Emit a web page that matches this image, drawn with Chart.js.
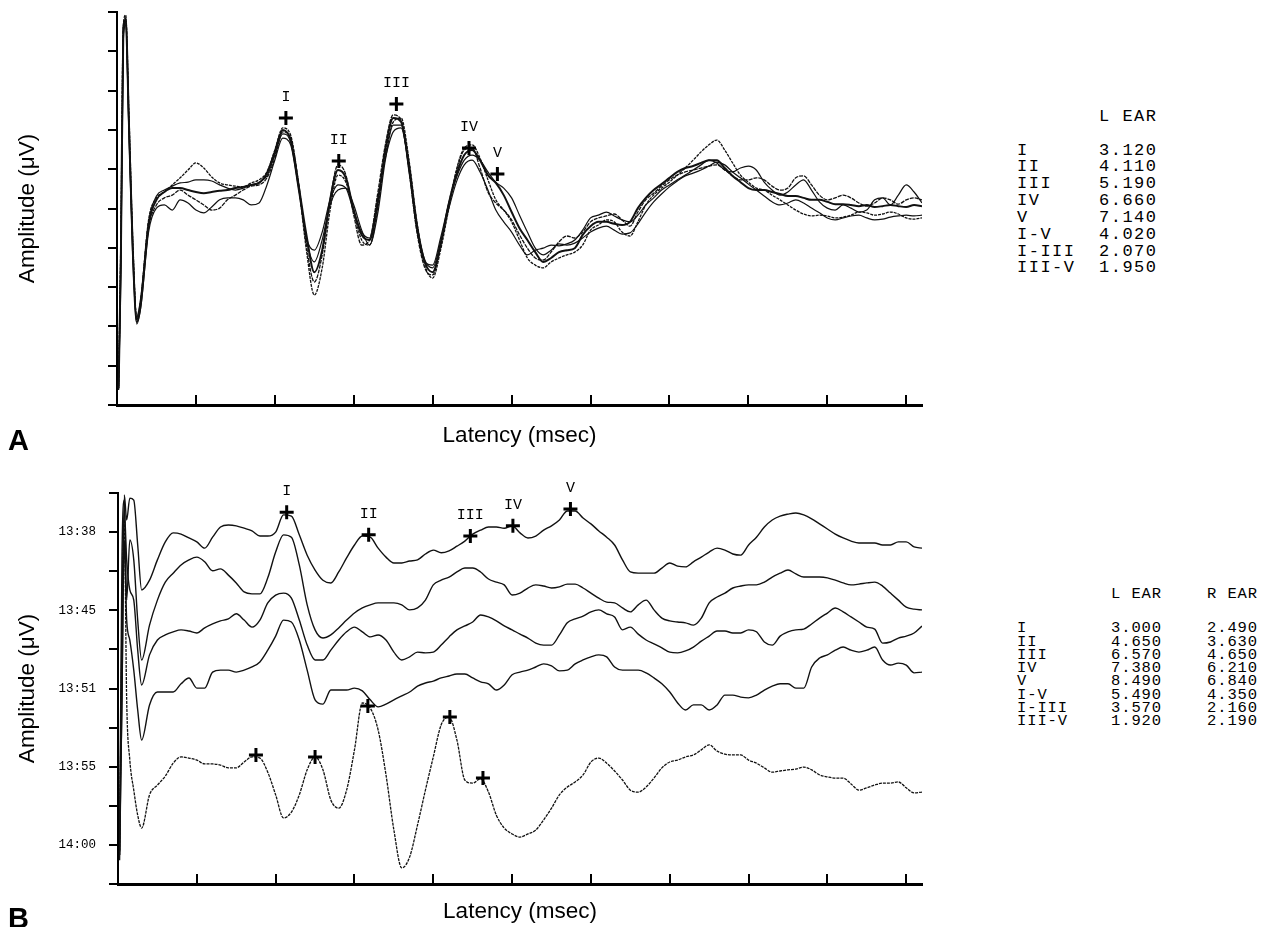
<!DOCTYPE html>
<html>
<head>
<meta charset="utf-8">
<script src="https://cdn.jsdelivr.net/npm/chart.js@4.4.1/dist/chart.umd.min.js"></script>
<style>
  body { margin: 0; background: #fff; width: 1266px; height: 927px; overflow: hidden; position: relative; }
  canvas { position: absolute; left: 0; }
  #chartA { top: 0; }
  #chartB { top: 465px; }
  .panel-tag { position: absolute; left: 8px; font: bold 29px "Liberation Sans", Arial, sans-serif; line-height: 29px; color: #000; }
  .cell { position: absolute; font-family: "Liberation Mono", "Courier New", monospace; color: #000; white-space: pre; }
</style>
</head>
<body>
<canvas id="chartA" width="945" height="465"></canvas>
<canvas id="chartB" width="945" height="462"></canvas>
<div class="panel-tag" style="top:426px">A</div>
<div class="panel-tag" style="top:904px">B</div>
<div id="tables"></div>
<script>
// ── ABR waveforms, latency in ms, amplitude in axis-tick units ──

const latency = [
  0.02, 0.05, 0.08, 0.11, 0.15, 0.2, 0.25,
  0.3, 0.4, 0.5, 0.6, 0.7, 0.8, 0.9,
  1.0, 1.1, 1.2, 1.3, 1.4, 1.5, 1.6, 1.7, 1.8, 1.9,
  2.0, 2.1, 2.2, 2.3, 2.4, 2.5, 2.6, 2.7, 2.8, 2.9,
  3.0, 3.1, 3.2, 3.3, 3.4, 3.5, 3.6, 3.7, 3.8, 3.9,
  4.0, 4.1, 4.2, 4.3, 4.4, 4.5, 4.6, 4.7, 4.8, 4.9,
  5.0, 5.1, 5.2, 5.3, 5.4, 5.5, 5.6, 5.7, 5.8, 5.9,
  6.0, 6.1, 6.2, 6.3, 6.4, 6.5, 6.6, 6.7, 6.8, 6.9,
  7.0, 7.1, 7.2, 7.3, 7.4, 7.5, 7.6, 7.7, 7.8, 7.9,
  8.0, 8.1, 8.2, 8.3, 8.4, 8.5, 8.6, 8.7, 8.8, 8.9,
  9.0, 9.1, 9.2, 9.3, 9.4, 9.5, 9.6, 9.7, 9.8, 9.9,
  10.0, 10.1, 10.2
];

// Panel A: repeated left-ear runs, overlaid
const ampA1 = [
  0.43, 3.94, 9.54, 9.80, 7.25, 3.94, 2.11,
  2.54, 4.58, 5.22, 5.42, 5.52, 5.52, 5.47,
  5.42, 5.39, 5.42, 5.45, 5.47, 5.52, 5.55, 5.60, 5.65, 5.90,
  6.44, 7.00, 6.74, 5.60, 4.33, 3.38, 3.94, 5.22, 5.98, 5.78,
  4.96, 4.33, 4.20, 5.09, 6.49, 7.30, 7.20, 6.11, 4.58, 3.64,
  3.38, 4.07, 5.09, 5.85, 6.36, 6.49, 6.23, 5.85, 5.65, 5.34,
  4.91, 4.50, 4.20, 3.89, 3.64, 3.74, 3.89, 3.94, 3.99, 4.33,
  4.55, 4.66, 4.66, 4.61, 4.58, 4.66, 5.01, 5.27, 5.47, 5.62,
  5.78, 5.93, 6.03, 6.08, 6.16, 6.23, 6.23, 6.03, 5.83, 5.67,
  5.52, 5.47, 5.47, 5.42, 5.37, 5.32, 5.32, 5.27, 5.22, 5.22,
  5.17, 5.11, 5.11, 5.09, 5.06, 5.09, 5.04, 5.06, 5.09, 5.06,
  5.04, 5.09, 5.06
];
const ampA2 = [
  0.38, 4.45, 9.67, 9.92, 7.51, 4.20, 2.21,
  2.67, 4.71, 5.27, 5.42, 5.60, 5.78, 5.98,
  6.16, 6.03, 5.80, 5.65, 5.60, 5.57, 5.55, 5.65, 5.73, 5.93,
  6.49, 7.05, 6.87, 5.60, 3.94, 2.80, 3.49, 4.96, 5.85, 5.67,
  4.91, 4.20, 4.07, 4.96, 6.36, 7.20, 7.30, 6.23, 4.66, 3.56,
  3.23, 3.94, 4.96, 5.98, 6.54, 6.62, 6.28, 5.73, 5.22, 4.96,
  4.66, 4.20, 3.74, 3.56, 3.49, 3.64, 3.74, 3.82, 3.89, 4.07,
  4.45, 4.58, 4.71, 4.66, 4.40, 4.30, 4.66, 5.09, 5.34, 5.52,
  5.67, 5.85, 6.03, 6.23, 6.44, 6.62, 6.74, 6.49, 6.16, 5.85,
  5.67, 5.52, 5.47, 5.34, 5.22, 5.09, 4.96, 4.86, 4.81, 4.83,
  4.81, 4.76, 4.78, 4.83, 4.91, 4.89, 4.83, 4.86, 4.91, 4.86,
  4.76, 4.73, 4.76
];
const ampA3 = [
  0.48, 3.44, 9.29, 9.67, 7.00, 3.74, 2.06,
  2.47, 4.40, 5.01, 5.09, 4.96, 5.22, 5.14,
  4.96, 4.89, 5.04, 5.22, 5.27, 5.27, 5.22, 5.09, 5.14, 5.60,
  6.23, 6.79, 6.62, 5.47, 4.25, 3.94, 4.40, 5.22, 5.60, 5.52,
  4.91, 4.40, 4.25, 5.22, 6.28, 6.95, 7.05, 6.03, 4.58, 3.69,
  3.49, 4.15, 4.96, 5.67, 6.11, 6.23, 5.93, 5.47, 4.96, 4.66,
  4.40, 4.07, 3.82, 3.94, 3.99, 4.07, 4.05, 4.10, 4.20, 4.45,
  4.76, 4.83, 4.91, 4.81, 4.71, 4.66, 4.83, 5.09, 5.27, 5.47,
  5.60, 5.73, 5.85, 5.98, 6.11, 6.23, 6.16, 5.98, 5.93, 6.03,
  6.08, 5.98, 5.67, 5.47, 5.34, 5.42, 5.60, 5.73, 5.47, 5.17,
  5.01, 4.96, 5.09, 5.01, 4.91, 4.96, 5.22, 5.27, 5.09, 5.34,
  5.60, 5.42, 5.14
];
const ampA4 = [
  0.41, 4.20, 9.59, 9.85, 7.30, 4.07, 2.16,
  2.62, 4.50, 5.09, 5.27, 5.34, 5.47, 5.34,
  5.22, 5.09, 4.96, 5.01, 5.22, 5.34, 5.47, 5.57, 5.60, 5.78,
  6.28, 6.95, 6.79, 5.67, 4.07, 3.13, 3.82, 5.22, 6.11, 5.85,
  4.83, 4.07, 4.20, 5.34, 6.62, 7.38, 7.25, 5.98, 4.40, 3.49,
  3.31, 4.07, 5.09, 5.93, 6.49, 6.54, 6.03, 5.42, 5.14, 4.96,
  4.71, 4.33, 3.99, 3.74, 3.69, 3.89, 4.15, 4.30, 4.25, 4.40,
  4.66, 4.76, 4.81, 4.86, 4.71, 4.55, 4.91, 5.22, 5.39, 5.57,
  5.73, 5.85, 5.93, 5.98, 6.03, 6.08, 6.11, 5.98, 5.83, 5.73,
  5.73, 5.78, 5.73, 5.57, 5.47, 5.52, 5.78, 5.83, 5.60, 5.34,
  5.22, 5.27, 5.34, 5.27, 5.14, 5.06, 5.14, 5.27, 5.22, 5.11,
  5.22, 5.27, 5.22
];
const ampA5 = [
  0.46, 3.69, 9.41, 9.75, 7.12, 3.89, 2.26,
  2.72, 4.66, 5.32, 5.47, 5.57, 5.65, 5.67,
  5.73, 5.73, 5.70, 5.60, 5.52, 5.47, 5.52, 5.60, 5.67, 5.83,
  6.36, 6.90, 6.69, 5.60, 4.20, 3.64, 4.20, 5.09, 5.47, 5.52,
  5.09, 4.45, 4.07, 4.83, 6.23, 7.12, 7.12, 5.93, 4.45, 3.64,
  3.56, 4.25, 5.09, 5.78, 6.23, 6.36, 6.23, 5.93, 5.67, 5.52,
  5.27, 4.83, 4.40, 3.99, 3.82, 3.94, 4.10, 4.07, 4.12, 4.25,
  4.40, 4.50, 4.55, 4.45, 4.35, 4.38, 4.61, 4.91, 5.17, 5.37,
  5.55, 5.70, 5.83, 5.90, 5.98, 6.08, 6.18, 6.11, 5.93, 5.78,
  5.62, 5.47, 5.32, 5.17, 5.09, 5.14, 5.22, 5.14, 5.01, 4.89,
  4.76, 4.71, 4.76, 4.81, 4.83, 4.76, 4.71, 4.73, 4.78, 4.81,
  4.83, 4.81, 4.83
];

// Panel B: successive runs, offset by time of recording
const ampB1 = [
  0.61, 4.71, 9.95, 9.31, 9.87, 9.82, 8.67,
  7.52, 7.77, 8.29, 8.75, 8.98, 8.95, 8.85,
  8.75, 8.59, 8.87, 9.13, 9.18, 9.16, 9.10, 9.03, 8.90, 8.90,
  9.00, 9.44, 9.41, 8.93, 8.41, 8.03, 7.77, 7.70, 7.98, 8.34,
  8.67, 8.90, 8.87, 8.59, 8.36, 8.21, 8.21, 8.26, 8.29, 8.44,
  8.54, 8.47, 8.52, 8.64, 8.77, 8.95, 9.05, 9.13, 9.13, 9.10,
  9.16, 8.98, 8.85, 8.90, 9.05, 9.16, 9.31, 9.54, 9.54, 9.36,
  9.21, 9.03, 8.87, 8.67, 8.29, 7.98, 7.95, 7.95, 7.95, 8.08,
  8.21, 8.13, 8.11, 8.24, 8.36, 8.49, 8.59, 8.54, 8.44, 8.41,
  8.67, 8.87, 9.13, 9.31, 9.41, 9.46, 9.49, 9.44, 9.34, 9.21,
  9.08, 8.95, 8.85, 8.77, 8.72, 8.72, 8.72, 8.67, 8.67, 8.75,
  8.75, 8.62, 8.59
];
const ampB2 = [
  0.87, 8.29, 9.82, 7.26, 8.80, 8.29, 6.75,
  5.73, 6.62, 7.26, 7.72, 7.95, 8.16, 8.29,
  8.36, 8.24, 8.01, 8.06, 7.90, 7.70, 7.47, 7.42, 7.42, 7.83,
  8.49, 8.93, 8.87, 8.16, 7.14, 6.50, 6.29, 6.37, 6.55, 6.75,
  6.93, 7.06, 7.14, 7.19, 7.19, 7.19, 7.14, 7.01, 7.06, 7.26,
  7.65, 7.77, 7.85, 7.98, 8.08, 8.08, 7.98, 7.80, 7.72, 7.65,
  7.39, 7.44, 7.57, 7.65, 7.62, 7.57, 7.60, 7.67, 7.67, 7.57,
  7.44, 7.31, 7.21, 7.19, 7.06, 6.96, 7.14, 7.26, 7.01, 6.80,
  6.73, 6.70, 6.68, 6.62, 6.80, 7.19, 7.34, 7.44, 7.57, 7.62,
  7.65, 7.65, 7.72, 7.85, 7.95, 8.03, 7.93, 7.85, 7.85, 7.85,
  7.83, 7.77, 7.70, 7.65, 7.67, 7.70, 7.72, 7.62, 7.44, 7.26,
  7.08, 7.03, 7.01
];
const ampB3 = [
  0.74, 6.75, 9.57, 8.29, 7.52, 7.26, 5.98,
  5.09, 5.86, 6.24, 6.37, 6.45, 6.50, 6.47,
  6.42, 6.55, 6.65, 6.73, 6.78, 6.91, 6.75, 6.57, 6.75, 7.19,
  7.39, 7.44, 7.31, 6.75, 6.11, 5.73, 5.73, 5.98, 6.24, 6.45,
  6.57, 6.45, 6.32, 6.37, 6.24, 5.93, 5.73, 5.81, 5.93, 5.91,
  5.93, 6.11, 6.32, 6.50, 6.60, 6.70, 6.88, 6.83, 6.73, 6.60,
  6.50, 6.39, 6.29, 6.16, 6.11, 6.11, 6.37, 6.68, 6.78, 6.85,
  6.96, 7.01, 6.91, 6.83, 6.50, 6.57, 6.39, 6.24, 6.14, 6.04,
  5.93, 5.91, 5.96, 6.06, 6.21, 6.34, 6.47, 6.47, 6.42, 6.42,
  6.50, 6.45, 6.19, 6.11, 6.34, 6.45, 6.50, 6.52, 6.65, 6.80,
  6.93, 7.06, 6.96, 6.83, 6.70, 6.57, 6.52, 6.16, 6.19, 6.29,
  6.34, 6.42, 6.60
];
const ampB4 = [
  0.82, 4.71, 8.80, 6.75, 6.24, 5.47, 4.45,
  3.68, 4.58, 4.91, 4.91, 4.91, 5.12, 5.27,
  5.01, 5.01, 5.42, 5.47, 5.47, 5.42, 5.47, 5.55, 5.68, 5.98,
  6.34, 6.75, 6.70, 6.24, 5.47, 4.71, 4.60, 4.96, 4.96, 4.96,
  5.01, 4.94, 4.71, 4.53, 4.60, 4.71, 4.81, 4.91, 5.06, 5.14,
  5.19, 5.27, 5.32, 5.37, 5.37, 5.27, 5.17, 5.12, 4.96, 5.09,
  5.35, 5.42, 5.47, 5.55, 5.63, 5.58, 5.45, 5.47, 5.63, 5.73,
  5.81, 5.86, 5.81, 5.55, 5.47, 5.47, 5.47, 5.40, 5.27, 5.12,
  4.91, 4.63, 4.45, 4.58, 4.58, 4.45, 4.58, 4.83, 4.83, 4.78,
  4.76, 4.83, 4.96, 5.06, 5.12, 5.12, 5.01, 5.01, 5.55, 5.78,
  5.86, 5.98, 6.06, 5.98, 5.93, 5.98, 6.06, 5.73, 5.60, 5.65,
  5.60, 5.40, 5.42
];
const ampB5 = [
  0.74, 6.24, 9.31, 4.71, 3.17, 2.40, 1.76,
  1.43, 2.28, 2.53, 2.76, 3.09, 3.25, 3.22,
  3.17, 3.07, 3.07, 3.04, 2.97, 2.97, 3.12, 3.25, 3.22, 2.86,
  2.28, 1.69, 1.84, 2.28, 2.92, 3.25, 2.92, 2.15, 1.94, 2.40,
  3.43, 4.63, 4.50, 3.94, 2.79, 1.38, 0.41, 0.69, 1.51, 2.40,
  3.25, 4.07, 4.27, 3.68, 2.66, 2.58, 2.69, 2.35, 1.76, 1.43,
  1.28, 1.20, 1.28, 1.38, 1.64, 1.94, 2.28, 2.48, 2.61, 2.79,
  3.12, 3.22, 3.09, 2.89, 2.66, 2.40, 2.35, 2.48, 2.71, 2.97,
  3.12, 3.17, 3.25, 3.30, 3.43, 3.56, 3.40, 3.32, 3.30, 3.30,
  3.17, 3.09, 2.97, 2.86, 2.89, 2.92, 2.94, 2.99, 2.92, 2.79,
  2.74, 2.71, 2.71, 2.56, 2.40, 2.46, 2.53, 2.58, 2.58, 2.61,
  2.46, 2.33, 2.35
];

// Marked peaks
const waveNames = ['I', 'II', 'III', 'IV', 'V'];
const peakLatA = [2.14, 2.81, 3.54, 4.46, 4.82];
const peakAmpA = [7.30, 6.21, 7.66, 6.54, 5.88];
const peakLatB1 = [2.14, 3.18, 4.47, 5.01, 5.74];
const peakAmpB1 = [9.51, 8.93, 8.90, 9.16, 9.59];
const peakLatB5 = [1.75, 2.50, 3.17, 4.21, 4.63];
const peakAmpB5 = [3.30, 3.25, 4.55, 4.27, 2.71];

// Panel B time-of-run tick labels
const timeTickValues = [1, 3, 5, 7, 9];
const timeLabels = ['14:00', '13:55', '13:51', '13:45', '13:38'];

// Latency tables
const rowNames = ['I', 'II', 'III', 'IV', 'V', 'I-V', 'I-III', 'III-V'];
const leftEarA = ['3.120', '4.110', '5.190', '6.660', '7.140', '4.020', '2.070', '1.950'];
const leftEarB = ['3.000', '4.650', '6.570', '7.380', '8.490', '5.490', '3.570', '1.920'];
const rightEarB = ['2.490', '3.630', '4.650', '6.210', '6.840', '4.350', '2.160', '2.190'];

// ── helpers ──
const toPoints = (xs, ys) => xs.map((x, i) => ({ x: x, y: ys[i] }));

function traceSet(values, width, dash) {
    return {
        data: toPoints(latency, values),
        borderColor: '#111',
        borderWidth: width,
        borderDash: dash || [],
        pointRadius: 0,
        cubicInterpolationMode: 'monotone',
        fill: false
    };
}

function peakSet(xs, ys, labels) {
    return {
        data: toPoints(xs, ys),
        showLine: false,
        pointStyle: 'cross',
        pointRadius: 7,
        pointBorderWidth: 3,
        pointBorderColor: '#000',
        borderColor: '#000',
        peakLabels: labels,
        order: -1
    };
}

const peakLabelPlugin = {
    id: 'peakLabels',
    afterDatasetsDraw(chart) {
        const ctx = chart.ctx;
        chart.data.datasets.forEach((ds, di) => {
            if (!ds.peakLabels) return;
            const meta = chart.getDatasetMeta(di);
            ctx.save();
            ctx.font = '15px "Liberation Mono", "Courier New", monospace';
            ctx.fillStyle = '#000';
            ctx.textAlign = 'center';
            ctx.textBaseline = 'middle';
            meta.data.forEach((pt, i) => {
                ctx.fillText(ds.peakLabels[i], pt.x, pt.y - 21);
            });
            ctx.restore();
        });
    }
};

const sansFont = '"Liberation Sans", Arial, sans-serif';

function xAxis(height, titlePad) {
    return {
        type: 'linear', min: 0, max: 10.2,
        ticks: { stepSize: 1, display: false, includeBounds: false },
        grid: { drawOnChartArea: false, drawTicks: true, tickLength: -10, color: '#000', lineWidth: 2 },
        border: { display: true, color: '#000', width: 3 },
        title: { display: true, text: 'Latency (msec)', color: '#000', font: { family: sansFont, size: 22.5 }, padding: { top: 0, bottom: titlePad } },
        afterFit: (s) => { s.height = height; }
    };
}

function yAxis(width, tickOpts) {
    return {
        type: 'linear', min: 0, max: 10,
        ticks: Object.assign({ stepSize: 1, display: false }, tickOpts || {}),
        grid: { drawOnChartArea: false, drawTicks: true, tickLength: 9, color: '#000', lineWidth: 2 },
        border: { display: true, color: '#000', width: 2 },
        title: { display: true, text: 'Amplitude (\u03bcV)', color: '#000', font: { family: sansFont, size: 22.5 }, padding: { top: 14, bottom: 0 } },
        afterFit: (s) => { s.width = width; }
    };
}

const baseOptions = {
    responsive: false,
    animation: false,
    events: [],
    plugins: { legend: { display: false }, tooltip: { enabled: false } }
};

// ── Panel A ──
new Chart(document.getElementById('chartA'), {
    type: 'line',
    data: {
        datasets: [
            peakSet(peakLatA, peakAmpA, waveNames),
            traceSet(ampA1, 2),
            traceSet(ampA2, 1.3, [3, 1]),
            traceSet(ampA3, 1.2),
            traceSet(ampA4, 1.3, [4, 1]),
            traceSet(ampA5, 1.2)
        ]
    },
    options: Object.assign({}, baseOptions, {
        layout: { padding: { top: 12, right: 23, left: 0, bottom: 0 } },
        scales: { x: xAxis(60, 16), y: yAxis(117) }
    }),
    plugins: [peakLabelPlugin]
});

// ── Panel B ──
new Chart(document.getElementById('chartB'), {
    type: 'line',
    data: {
        datasets: [
            peakSet(peakLatB1, peakAmpB1, waveNames),
            peakSet(peakLatB5, peakAmpB5, null),
            traceSet(ampB1, 1.4),
            traceSet(ampB2, 1.4),
            traceSet(ampB3, 1.4),
            traceSet(ampB4, 1.4),
            traceSet(ampB5, 1.3, [3, 1])
        ]
    },
    options: Object.assign({}, baseOptions, {
        layout: { padding: { top: 28, right: 23, left: 0, bottom: 0 } },
        scales: {
            x: xAxis(43, 2),
            y: yAxis(118, {
                display: true,
                color: '#000',
                padding: 13,
                font: { family: '"Liberation Mono", "Courier New", monospace', size: 12.5 },
                callback: (v) => {
                    const i = timeTickValues.indexOf(v);
                    return i >= 0 ? timeLabels[i] : '';
                }
            })
        }
    }),
    plugins: [peakLabelPlugin]
});

// ── latency tables ──
function placeText(text, x, yCenter, sizePx, spacingPx) {
    const el = document.createElement('div');
    el.className = 'cell';
    el.textContent = text;
    el.style.fontSize = sizePx + 'px';
    el.style.letterSpacing = spacingPx + 'px';
    el.style.lineHeight = sizePx + 'px';
    el.style.left = x + 'px';
    el.style.top = (yCenter - sizePx / 2) + 'px';
    document.getElementById('tables').appendChild(el);
}

function buildTable(cols, headerY, firstRowY, rowGap, sizePx, spacingPx) {
    cols.forEach(col => {
        if (col.header) placeText(col.header, col.x, headerY, sizePx, spacingPx);
        col.cells.forEach((t, i) => placeText(t, col.x, firstRowY + i * rowGap, sizePx, spacingPx));
    });
}

buildTable([
    { x: 1017, header: null, cells: rowNames },
    { x: 1099, header: 'L EAR', cells: leftEarA }
], 116, 150, 16.85, 17, 1.5);

buildTable([
    { x: 1017, header: null, cells: rowNames },
    { x: 1111, header: 'L EAR', cells: leftEarB },
    { x: 1207, header: 'R EAR', cells: rightEarB }
], 595, 629, 13.3, 15.5, 0.9);
</script>
</body>
</html>
